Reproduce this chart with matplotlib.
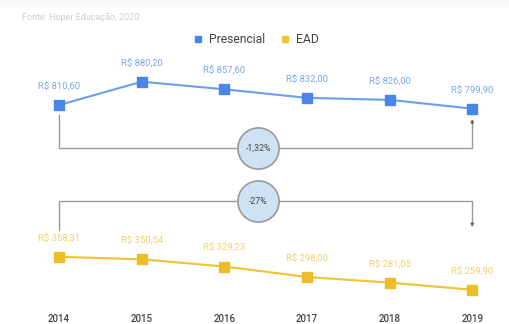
import matplotlib
matplotlib.use("Agg")
import matplotlib.pyplot as plt
from matplotlib.lines import Line2D

plt.rcParams['font.family'] = ['Roboto', 'DejaVu Sans']

years = [2014, 2015, 2016, 2017, 2018, 2019]
presencial = [810.60, 880.20, 857.60, 832.00, 826.00, 799.90]
ead = [358.31, 350.54, 329.23, 298.00, 281.05, 259.90]
variacao = ['-1,32%', '-27%']
fonte = 'Fonte: Hoper Educação, 2020'

azul = '#4a86e8'
azul_linha = '#6d9eeb'
amarelo = '#f1c232'
cinza = '#9a9a9a'


def brl(v):
    return 'R$ ' + f'{v:.2f}'.replace('.', ',')


fig = plt.figure(figsize=(5.09, 3.24), dpi=100)
ax = fig.add_axes([0, 0, 1, 1])
ax.set_xlim(2013.286, 2019.444)
ax.set_ylim(157.8, 1123.8)
ax.axis('off')

# faixa bem clara no topo
fig.patches.append(plt.Rectangle((0, 0.98), 1, 0.02, transform=fig.transFigure,
                                 color='#f7f8f8', zorder=0))

ax.plot(years, presencial, color=azul_linha, lw=1.5, zorder=3)
ax.plot(years, presencial, 's', color=azul, ms=6.5, zorder=4)
ax.plot(years, ead, color=amarelo, lw=1.5, zorder=3)
ax.plot(years, ead, 's', color='#efbd2a', ms=6.5, zorder=4)

for x, v in zip(years, presencial):
    ax.annotate(brl(v), (x, v), xytext=(0, 13), textcoords='offset points',
                ha='center', va='center', fontsize=6.8, color='#7ba7e8')
for x, v in zip(years, ead):
    ax.annotate(brl(v), (x, v), xytext=(0, 13), textcoords='offset points',
                ha='center', va='center', fontsize=6.8, color='#f2d06e')

# colchetes de variação
x0, x1 = years[0], years[-1]
xc = 2016.41
yb1 = 682.5
ax.plot([x0, x0, x1, x1], [presencial[0] - 30, yb1, yb1, presencial[-1] - 45],
        color=cinza, lw=1, zorder=1)
ax.annotate('', xy=(x1, presencial[-1] - 31), xytext=(x1, presencial[-1] - 45),
            arrowprops=dict(arrowstyle='-|>', color='#666666', lw=1,
                            mutation_scale=4, shrinkA=0, shrinkB=0))
yb2 = 524.0
ax.plot([x0, x0, x1, x1], [ead[0] + 80, yb2, yb2, ead[-1] + 200],
        color=cinza, lw=1, zorder=1)
ax.annotate('', xy=(x1, ead[-1] + 187), xytext=(x1, ead[-1] + 200),
            arrowprops=dict(arrowstyle='-|>', color='#666666', lw=1,
                            mutation_scale=4, shrinkA=0, shrinkB=0))

for yb, txt in zip([yb1, yb2], variacao):
    ax.scatter([xc], [yb], s=880, marker='o', color='#cfe2f3',
               edgecolors=cinza, linewidths=1.2, zorder=5)
    ax.text(xc, yb, txt, ha='center', va='center', fontsize=6.3,
            color='#444444', zorder=6)

# anos
for x in years:
    ax.text(x, 172.5, str(x), ha='center', va='center', fontsize=7,
            color='#444444', fontweight='medium')

handles = [Line2D([], [], ls='', marker='s', color=azul, ms=5),
           Line2D([], [], ls='', marker='s', color=amarelo, ms=5)]
fig.legend(handles, ['Presencial', 'EAD'], loc='center', bbox_to_anchor=(0.503, 0.877),
           ncol=2, frameon=False, fontsize=8.7, handlelength=0.8, handletextpad=0.5,
           columnspacing=1.3, labelcolor='#444444')

fig.text(22 / 509, 1 - 17 / 324, fonte, ha='left', va='center', fontsize=6.5,
         color='#cfcfcf')

fig.savefig('out.png', dpi=100)
